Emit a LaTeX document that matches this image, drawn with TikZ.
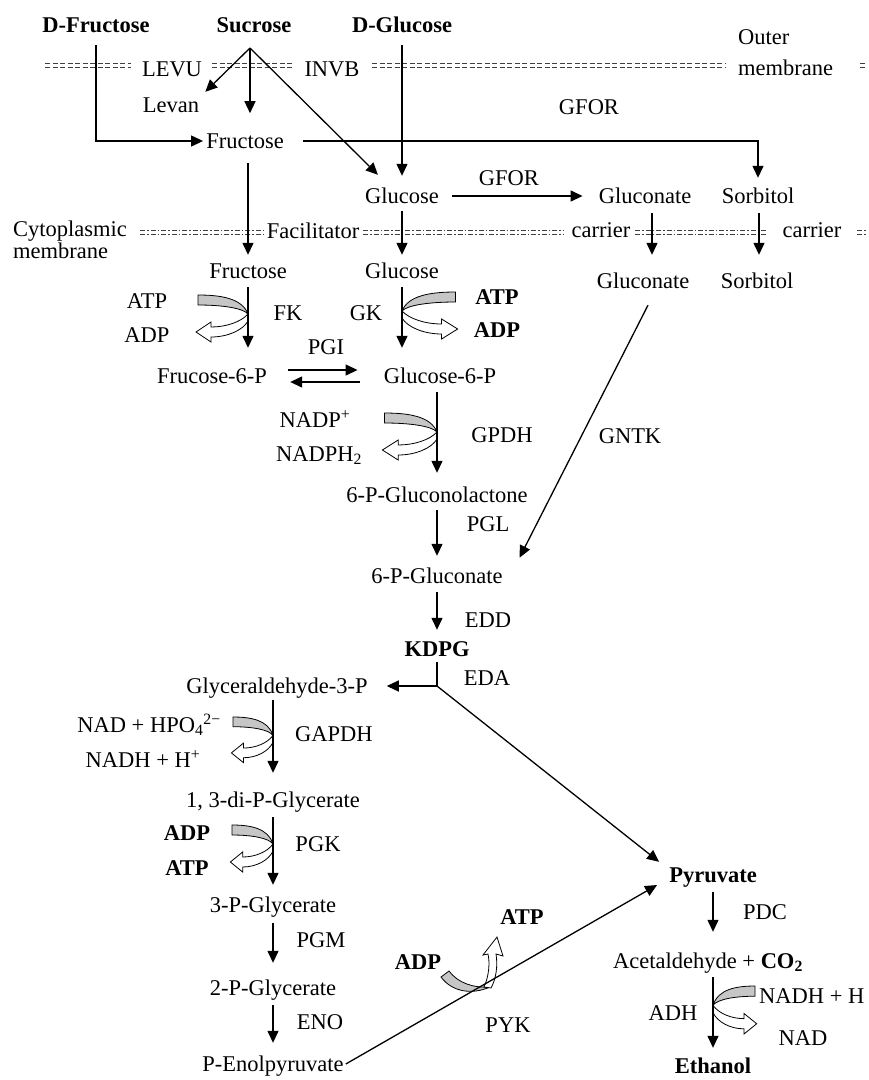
\documentclass[tikz,border=0pt]{standalone}
\usepackage{fontspec}
\setmainfont{Liberation Serif}
\usetikzlibrary{arrows.meta}
\newcommand{\cofarrow}[3]{%
\begin{scope}[shift={#1}, xscale=#2, yscale=#3]
\filldraw[band] (50,0) .. controls (28,0) and (6,3) .. (0,19) .. controls (5,13) and (26,10) .. (50,10) -- cycle;
\filldraw[hollow] (0,19) .. controls (7,27) and (22,32) .. (37,32) -- (37,27) -- (52,37) -- (37,47) -- (37,42) .. controls (20,42) and (5,35) .. (0,26) -- cycle;
\end{scope}}
\begin{document}
\begin{tikzpicture}[x=1pt,y=-1pt,
  lbl/.style={font=\fontsize{22.5}{26}\selectfont, inner sep=2pt, text height=15.5pt, text depth=0.5pt},
  blbl/.style={lbl, font=\fontsize{22.5}{26}\selectfont\bfseries},
  arr/.style={draw, line width=1.3pt, -{Triangle[length=12pt,width=11pt]}},
  memo/.style={draw=black!75, line width=1.8pt, dash pattern=on 5pt off 2.5pt},
  memc/.style={draw=black!75, line width=1.8pt, dash pattern=on 5pt off 2pt on 1.5pt off 2pt},
  band/.style={draw, line width=0.8pt, fill=gray!45},
  hollow/.style={draw, line width=0.8pt, fill=white},
]
\fill[white] (0,0) rectangle (869,1080);
\useasboundingbox (0,0) rectangle (869,1080);

% membranes
\foreach \yy in {63.5,67.5} {
  \draw[memo] (45,\yy) -- (131,\yy);
  \draw[memo] (212,\yy) -- (293,\yy);
  \draw[memo] (372,\yy) -- (725,\yy);
  \draw[memo] (860,\yy) -- (866,\yy);
}
\foreach \yy in {230.5,234.5} {
  \draw[memc] (140,\yy) -- (264,\yy);
  \draw[memc] (363,\yy) -- (563,\yy);
  \draw[memc] (635,\yy) -- (767,\yy);
  \draw[memc] (857,\yy) -- (866,\yy);
}

% nodes
\node[blbl] (dfru) at (96,25) {D-Fructose};
\node[blbl] (suc) at (254,25) {Sucrose};
\node[blbl] (dglc) at (402,25) {D-Glucose};
\node[lbl, anchor=west] (outer1) at (736,37) {Outer};
\node[lbl, anchor=west] (outer2) at (736,68) {membrane};
\node[lbl] (levu) at (172,69) {LEVU};
\node[lbl] (invb) at (332,69) {INVB};
\node[lbl] (levan) at (171,105) {Levan};
\node[lbl] (gfor1) at (589,107) {GFOR};
\node[lbl] (fru1) at (245,141) {Fructose};
\node[lbl] (glc1) at (402,196) {Glucose};
\node[lbl] (gfor2) at (509,178) {GFOR};
\node[lbl] (glcn1) at (645,196) {Gluconate};
\node[lbl] (sorb1) at (758,196) {Sorbitol};
\node[lbl, anchor=west] (cyt1) at (11,229) {Cytoplasmic};
\node[lbl, anchor=west] (cyt2) at (11,251) {membrane};
\node[lbl] (facil) at (313,231) {Facilitator};
\node[lbl] (carr1) at (601,230) {carrier};
\node[lbl] (carr2) at (812,230) {carrier};
\node[lbl] (fru2) at (248,271) {Fructose};
\node[lbl] (glc2) at (402,271) {Glucose};
\node[lbl] (glcn2) at (643,281) {Gluconate};
\node[lbl] (sorb2) at (757,281) {Sorbitol};
\node[lbl] (atp1) at (147,301) {ATP};
\node[lbl] (adp1) at (147,335) {ADP};
\node[lbl] (fk) at (288,313) {FK};
\node[lbl] (gk) at (366,313) {GK};
\node[blbl] (atp2) at (497,297) {ATP};
\node[blbl] (adp2) at (497,330) {ADP};
\node[lbl] (pgi) at (326,347) {PGI};
\node[lbl] (f6p) at (212,376) {Frucose-6-P};
\node[lbl] (g6p) at (440,376) {Glucose-6-P};
\node[lbl] (nadp) at (315,420) {NADP\textsuperscript{+}};
\node[lbl] (nadph) at (319,454) {NADPH\textsubscript{2}};
\node[lbl] (gpdh) at (502,435) {GPDH};
\node[lbl] (gnl) at (437,495) {6-P-Gluconolactone};
\node[lbl] (gntk) at (630,436) {GNTK};
\node[lbl] (pgl) at (488,524) {PGL};
\node[lbl] (pgn) at (437,576) {6-P-Gluconate};
\node[lbl] (edd) at (488,620) {EDD};
\node[blbl] (kdpg) at (437,649) {KDPG};
\node[lbl] (eda) at (487,678) {EDA};
\node[lbl] (gap) at (277,686) {Glyceraldehyde-3-P};
\node[lbl] (nad1) at (149,725) {NAD + HPO\textsubscript{4}\textsuperscript{2−}};
\node[lbl] (nadh1) at (143,760) {NADH + H\textsuperscript{+}};
\node[lbl] (gapdh) at (334,734) {GAPDH};
\node[lbl] (dpg) at (273,800) {1, 3-di-P-Glycerate};
\node[blbl] (adp3) at (187,833) {ADP};
\node[blbl] (atp3) at (187,868) {ATP};
\node[lbl] (pgk) at (318,844) {PGK};
\node[lbl] (pg3) at (273,905) {3-P-Glycerate};
\node[lbl] (pgm) at (321,940) {PGM};
\node[lbl] (pg2) at (273,988) {2-P-Glycerate};
\node[lbl] (eno) at (320,1022) {ENO};
\node[lbl] (pep) at (273,1064) {P-Enolpyruvate};
\node[blbl] (adp4) at (418,962) {ADP};
\node[blbl] (atp4) at (522,917) {ATP};
\node[lbl] (pyk) at (508,1025) {PYK};
\node[blbl] (pyr) at (713,875) {Pyruvate};
\node[lbl] (pdc) at (765,912) {PDC};
\node[lbl] (acet) at (708,961) {Acetaldehyde + \textbf{CO\textsubscript{2}}};
\node[lbl] (adh) at (673,1013) {ADH};
\node[lbl, anchor=west] (nadh2) at (757,996) {NADH + H};
\node[lbl] (nad2) at (803,1038) {NAD};
\node[blbl] (eth) at (713,1066) {Ethanol};

\coordinate (sucA) at (250,48);
\coordinate (edaC) at (kdpg.south |- gap.east);

% cofactor arrows
\cofarrow{(248,295)}{-1}{1}
\cofarrow{(402,292)}{1.07}{1}
\cofarrow{(437,413)}{-1.05}{1}
\cofarrow{(273,717)}{-0.8}{0.97}
\cofarrow{(273,825)}{-0.82}{1}
\cofarrow{(713,986)}{0.84}{1.02}
\filldraw[band] (441,977) .. controls (452,992) and (472,995) .. (490,987) .. controls (473,988) and (458,983) .. (449,971) -- cycle;
\filldraw[hollow] (484,987) .. controls (489,976) and (490,963) .. (488,954) -- (483,955) -- (497,937) -- (503,956) -- (496,954) .. controls (498,966) and (496,979) .. (491,988) -- cycle;

% connectors
\draw[arr, shorten <=10pt, shorten >=1pt] (dfru.south) |- (fru1.west);
\draw[arr] (sucA) -- ([xshift=4pt,yshift=3pt]levan.north east);
\draw[arr, shorten >=2pt] (sucA) -- (sucA |- levan.south);
\draw[arr] (sucA) -- ([xshift=15pt,yshift=11pt]glc1.north west);
\draw[arr, shorten <=10pt, shorten >=10pt] (dglc.south) -- (glc1.north);
\draw[arr, shorten <=17pt, shorten >=8pt] (fru1.east) -| (sorb1.north);
\draw[arr, shorten <=11pt, shorten >=14pt] (glc1.east) -- (glcn1.west);
\draw[arr, shorten <=12pt, shorten >=6pt] (fru1.south -| fru2.north) -- (fru2.north);
\draw[arr, shorten <=5pt, shorten >=6pt] (glc1.south) -- (glc2.north);
\draw[arr, shorten <=7pt, shorten >=16pt] ([xshift=7pt]glcn1.south) -- ([xshift=9pt]glcn2.north);
\draw[arr, shorten <=7pt, shorten >=16pt] ([xshift=1pt]sorb1.south) -- ([xshift=2pt]sorb2.north);
\draw[arr, shorten <=6pt, shorten >=18pt] (fru2.south) -- (fru2.south |- f6p.north);
\draw[arr, shorten <=6pt, shorten >=18pt] (glc2.south) -- (glc2.south |- g6p.north);
\draw[arr, shorten <=19pt, shorten >=24pt] ([yshift=6pt]f6p.east) -- ([yshift=6pt]g6p.west);
\draw[arr, shorten <=22pt, shorten >=21pt] ([yshift=-6pt]g6p.west) -- ([yshift=-6pt]f6p.east);
\draw[arr, shorten <=6pt, shorten >=12pt] (g6p.south -| gnl.north) -- (gnl.north);
\draw[arr, shorten <=5pt, shorten >=10pt] (gnl.south) -- (pgn.north);
\draw[arr, shorten <=6pt, shorten >=9pt] (pgn.south) -- (kdpg.north);
\draw[arr, shorten >=6pt] ([xshift=5pt,yshift=-14pt]glcn2.south) -- ([xshift=12pt,yshift=13pt]pgn.east);
\draw[arr, shorten <=3pt, shorten >=17pt] (kdpg.south) |- (gap.east);
\draw[arr] (edaC) -- ([xshift=-8pt,yshift=3pt]pyr.north west);
\draw[arr, shorten <=4pt, shorten >=17pt] (gap.south -| dpg.north) -- (dpg.north);
\draw[arr, shorten <=7pt, shorten >=10pt] (dpg.south) -- (pg3.north);
\draw[arr, shorten <=8pt, shorten >=15pt] (pg3.south) -- (pg2.north);
\draw[arr, shorten <=7pt, shorten >=11pt] (pg2.south) -- (pep.north);
\draw[arr] (pep.east) -- ([xshift=-10pt,yshift=-10pt]pyr.west);
\draw[arr, shorten <=7pt, shorten >=19pt] (pyr.south) -- (pyr.south |- acet.north);
\draw[arr, shorten <=6pt, shorten >=8pt] (acet.south -| eth.north) -- (eth.north);
\end{tikzpicture}
\end{document}
